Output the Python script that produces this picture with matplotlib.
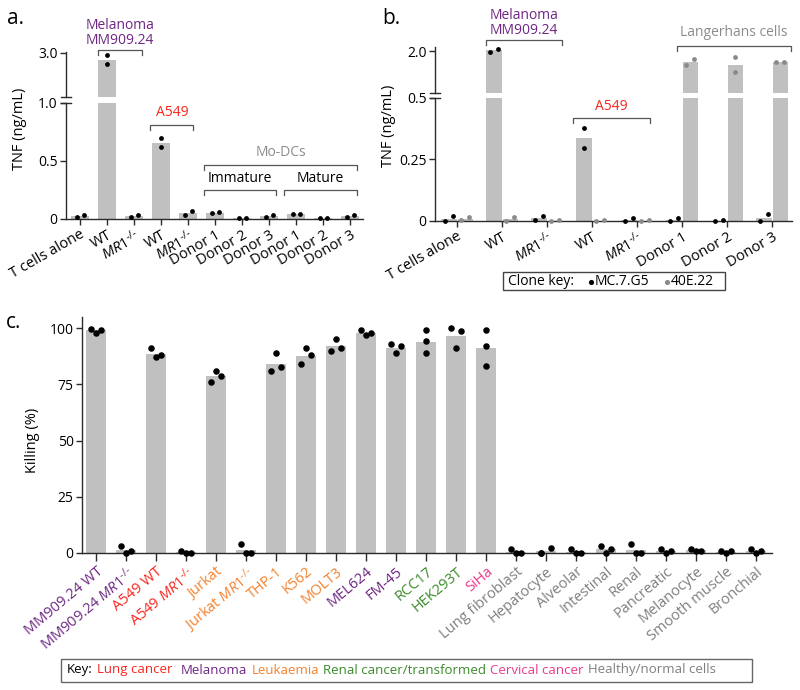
import numpy as np
import matplotlib
matplotlib.use("Agg")
import matplotlib.pyplot as plt
import matplotlib.transforms as mtransforms
from matplotlib.patches import Rectangle

plt.rcParams['font.family'] = ['Open Sans', 'DejaVu Sans']
plt.rcParams['mathtext.fontset'] = 'custom'
plt.rcParams['mathtext.rm'] = 'Open Sans'
plt.rcParams['mathtext.it'] = 'Open Sans:italic'
plt.rcParams['mathtext.bf'] = 'Open Sans:bold'

# hyphen (not minus) in the superscript, like the original
MR1 = '$\\mathit{MR1}^{\\mathit{\u2010/\u2010}}$'

# ---- panel a: TNF, clone MC.7.G5 vs targets (two replicates each)
a_labels = ['T cells alone', 'WT', MR1, 'WT', MR1,
            'Donor 1', 'Donor 2', 'Donor 3', 'Donor 1', 'Donor 2', 'Donor 3']
a_points = [[0.02, 0.035], [2.89, 2.49], [0.02, 0.035], [0.695, 0.62],
            [0.035, 0.07], [0.05, 0.058], [0.006, 0.006], [0.02, 0.035],
            [0.04, 0.04], [0.006, 0.006], [0.02, 0.035]]
a_ticks_low = [0, 0.5, 1.0]
a_ticks_high = [3.0]

# ---- panel b: TNF, two clones
b_labels = ['T cells alone', 'WT', MR1, 'WT', MR1, 'Donor 1', 'Donor 2', 'Donor 3']
b_mc7g5 = [[0.0, 0.02], [1.96, 2.08], [0.005, 0.02], [0.376, 0.296],
           [0.0, 0.012], [0.0, 0.011], [0.0, 0.004], [0.0, 0.028]]
b_40e22 = [[0.004, 0.015], [0.0, 0.015], [0.0, 0.004], [0.0, 0.004],
           [0.0, 0.004], [1.49, 1.70], [1.79, 1.23], [1.59, 1.59]]
b_ticks_low = [0, 0.25, 0.5]
b_ticks_high = [2.0]

# ---- panel c: killing (%)
c_labels = ['MM909.24 WT', 'MM909.24 ' + MR1, 'A549 WT', 'A549 ' + MR1,
            'Jurkat', 'Jurkat ' + MR1, 'THP-1', 'K562', 'MOLT3', 'MEL624',
            'FM-45', 'RCC17', 'HEK293T', 'SiHa', 'Lung fibroblast', 'Hepatocyte',
            'Alveolar', 'Intestinal', 'Renal', 'Pancreatic', 'Melanocyte',
            'Smooth muscle', 'Bronchial']
c_groups = ['mel', 'mel', 'lung', 'lung', 'leuk', 'leuk', 'leuk', 'leuk', 'leuk',
            'mel', 'mel', 'renal', 'renal', 'cerv'] + ['healthy'] * 9
c_points = [[99.8, 98.1, 99.1], [3.1, 0.0, 0.9], [91.0, 87.0, 88.0], [1.0, 0.0, 0.2],
            [76.0, 81.0, 78.8], [3.8, 0.0, 0.0], [81.0, 89.0, 82.8], [84.0, 91.0, 88.0],
            [89.9, 95.0, 91.0], [99.1, 97.0, 98.1], [93.0, 88.9, 92.0], [99.1, 94.1, 88.9],
            [100.1, 91.0, 98.9], [99.1, 92.0, 83.1], [1.8, 0.0, 0.0], [0.0, 0.0, 2.2],
            [2.0, 0.0, 0.0], [3.1, 0.0, 2.0], [4.1, 0.0, 0.0], [2.0, 0.0, 1.0],
            [2.0, 1.1, 1.1], [1.0, 0.0, 1.0], [2.0, 0.0, 1.0]]
c_ticks = [0, 25, 50, 75, 100]

key_names = ['Lung cancer', 'Melanoma', 'Leukaemia', 'Renal cancer/transformed',
             'Cervical cancer', 'Healthy/normal cells']
key_groups = ['lung', 'mel', 'leuk', 'renal', 'cerv', 'healthy']

clone_names = ['MC.7.G5', '40E.22']

colors = {'lung': '#f7261f', 'mel': '#6e2683', 'leuk': '#f3822e', 'renal': '#3b8a2a',
          'cerv': '#ec3a8a', 'healthy': '#7f7f7f'}

W, H = 800, 690
BAR = '#c0c0c0'
AXC = '#2b2b2b'
GRAYDOT = '#8a8a8a'
TICKFS = 10.5

fig = plt.figure(figsize=(8, 6.9), dpi=100)


def px_rect(l, t, r, b):
    return [l / W, 1 - b / H, (r - l) / W, (b - t) / H]


def style(ax, bottom=True):
    ax.patch.set_visible(False)
    for s in ['top', 'right']:
        ax.spines[s].set_visible(False)
    for s in ['left', 'bottom']:
        ax.spines[s].set_linewidth(1.0)
        ax.spines[s].set_color(AXC)
    ax.tick_params(length=4, width=1.0, color=AXC, labelsize=10, pad=2)
    ax.tick_params(axis='x', labelsize=TICKFS)
    if not bottom:
        ax.spines['bottom'].set_visible(False)
        ax.tick_params(axis='x', bottom=False, labelbottom=False)


def break_marks(lo, hi):
    d = 5 / (lo.get_position().width * W)
    kw = dict(color=AXC, lw=1.0, clip_on=False)
    lo.plot([-d, d], [1, 1], transform=lo.transAxes, **kw)
    hi.plot([-d, d], [0, 0], transform=hi.transAxes, **kw)


def pair_dots(lo, hi, brk, xs, vals, color, spread, size):
    # two replicates: stacked when far apart, side by side when they would overlap
    for x, v in zip(xs, vals):
        tgt = [hi if p > brk else lo for p in v]
        ys = [t.transData.transform((0, p))[1] for t, p in zip(tgt, v)]
        offs = [0, 0] if abs(ys[0] - ys[1]) > 8 else [-spread, spread]
        for t, p, o in zip(tgt, v, offs):
            t.scatter(x + o, p, s=size, color=color, lw=0, zorder=3, clip_on=False)


# overlay in pixel coordinates for labels, brackets and keys
ov = fig.add_axes([0, 0, 1, 1], zorder=10)
ov.set_xlim(0, W)
ov.set_ylim(H, 0)
ov.axis('off')


def bracket(ax, x0, x1, y, text, color, ty):
    tr = mtransforms.blended_transform_factory(ax.transData, ov.transData)
    ov.plot([x0, x0, x1, x1], [y + 5, y, y, y + 5], transform=tr, color='#555555',
            lw=0.9, clip_on=False)
    ov.text((x0 + x1) / 2, ty, text, transform=tr, color=color, ha='center',
            va='center', fontsize=10, linespacing=1.0)


# ================= panel a =================
a_lo = fig.add_axes(px_rect(66, 102.7, 363, 219))
a_hi = fig.add_axes(px_rect(66, 51.7, 363, 96.7))
xa = np.arange(len(a_labels))
a_mean = [np.mean(v) for v in a_points]
for ax in (a_lo, a_hi):
    ax.bar(xa, a_mean, 0.66, color=BAR, zorder=1)
    ax.set_xlim(-0.52, len(a_labels) - 0.52)
a_lo.set_ylim(0, 1.0)
a_hi.set_ylim(1.0, 3.045)
style(a_lo)
style(a_hi, bottom=False)
a_lo.set_yticks(a_ticks_low, ['0', '0.5', '1.0'])
a_hi.set_yticks(a_ticks_high, ['3.0'])
a_lo.set_xticks(xa)
a_lo.set_xticklabels(a_labels, rotation=30, ha='right', rotation_mode='anchor')
break_marks(a_lo, a_hi)
pair_dots(a_lo, a_hi, 1.0, xa, a_points, 'black', 0.13, 12)

bracket(a_lo, 0.65, 2.3, 50, 'Melanoma\nMM909.24', colors['mel'], 33)
bracket(a_lo, 2.6, 4.2, 125, 'A549', colors['lung'], 113)
bracket(a_lo, 4.6, 10.26, 165, 'Mo-DCs', '#8c8c8c', 153)
bracket(a_lo, 4.6, 7.26, 190, 'Immature', 'black', 178)
bracket(a_lo, 7.55, 10.26, 190, 'Mature', 'black', 178)

ov.text(20, 129, 'TNF (ng/mL)', rotation=90, ha='center', va='center', fontsize=10.5)
ov.text(15, 19, 'a.', ha='center', va='center', fontsize=15)

# ================= panel b =================
b_lo = fig.add_axes(px_rect(435, 97.5, 792, 221))
b_hi = fig.add_axes(px_rect(435, 47, 792, 92.5))
xb = np.arange(len(b_labels))
m1 = [np.mean(v) for v in b_mc7g5]
m2 = [np.mean(v) for v in b_40e22]
for ax in (b_lo, b_hi):
    ax.bar(xb - 0.18, m1, 0.34, color=BAR, zorder=1)
    ax.bar(xb + 0.18, m2, 0.34, color=BAR, zorder=1)
    ax.set_xlim(-0.49, len(b_labels) - 0.56)
b_lo.set_ylim(0, 0.5)
b_hi.set_ylim(0.5, 2.145)
style(b_lo)
style(b_hi, bottom=False)
b_lo.set_yticks(b_ticks_low, ['0', '0.25', '0.5'])
b_hi.set_yticks(b_ticks_high, ['2.0'])
b_lo.set_xticks(xb)
b_lo.set_xticklabels(b_labels, rotation=30, ha='right', rotation_mode='anchor')
break_marks(b_lo, b_hi)
pair_dots(b_lo, b_hi, 0.5, xb - 0.18, b_mc7g5, 'black', 0.085, 12)
pair_dots(b_lo, b_hi, 0.5, xb + 0.18, b_40e22, GRAYDOT, 0.085, 12)

bracket(b_lo, 0.64, 2.33, 40, 'Melanoma\nMM909.24', colors['mel'], 23)
bracket(b_lo, 2.58, 4.29, 118, 'A549', colors['lung'], 107)
bracket(b_lo, 4.89, 7.42, 46, 'Langerhans cells', '#8c8c8c', 33)

ov.text(388, 126, 'TNF (ng/mL)', rotation=90, ha='center', va='center', fontsize=10.5)
ov.text(391, 19, 'b.', ha='center', va='center', fontsize=15)

# clone key
ov.add_patch(Rectangle((503, 272), 222, 18, fill=False, ec='#444444', lw=1.0))
ov.text(508, 281.5, 'Clone key:', ha='left', va='center', fontsize=10)
for name, c, xd in zip(clone_names, ['black', GRAYDOT], [591, 667]):
    ov.scatter(xd, 281.5, s=14, color=c, lw=0, clip_on=False)
    ov.text(xd + 4, 281.5, name, ha='left', va='center', fontsize=10)

# ================= panel c =================
c_ax = fig.add_axes(px_rect(82, 317, 772, 553))
xc = np.arange(len(c_labels))
c_mean = [np.mean(v) for v in c_points]
c_ax.bar(xc, c_mean, 0.66, color=BAR, zorder=1)
for i, v in enumerate(c_points):
    if c_labels[i] in ('RCC17', 'SiHa'):
        offs = [0, 0, 0]
    elif c_labels[i] == 'Hepatocyte':
        offs = [-0.17, -0.17, 0.17]
    else:
        offs = [-0.17, 0, 0.17]
    c_ax.scatter(i + np.array(offs), v, s=22, color='black', lw=0, zorder=3, clip_on=False)
c_ax.set_xlim(-0.47, len(c_labels) - 0.47)
c_ax.set_ylim(0, 105)
style(c_ax)
c_ax.tick_params(axis='x', length=6)
c_ax.set_yticks(c_ticks)
c_ax.set_xticks(xc)
c_ax.set_xticklabels(c_labels, rotation=40, ha='right', rotation_mode='anchor')
for lab, g in zip(c_ax.get_xticklabels(), c_groups):
    lab.set_color(colors[g])

ov.text(33, 440, 'Killing (%)', rotation=90, ha='center', va='center', fontsize=10.5)
ov.text(14, 322, 'c.', ha='center', va='center', fontsize=15)

# colour key
ov.add_patch(Rectangle((61, 659), 691, 23, fill=False, ec='#666666', lw=1.0))
t = ov.text(67, 670, 'Key:', ha='left', va='center', fontsize=9.5)
gaps = [3, 6, 3, 3, 3, 3]
for name, g, gap in zip(key_names, key_groups, gaps):
    t = ov.annotate(name, xy=(1, 0), xycoords=t, xytext=(gap, 0), textcoords='offset points',
                    ha='left', va='bottom', fontsize=9.5, color=colors[g])

fig.savefig('out.png', dpi=100)
